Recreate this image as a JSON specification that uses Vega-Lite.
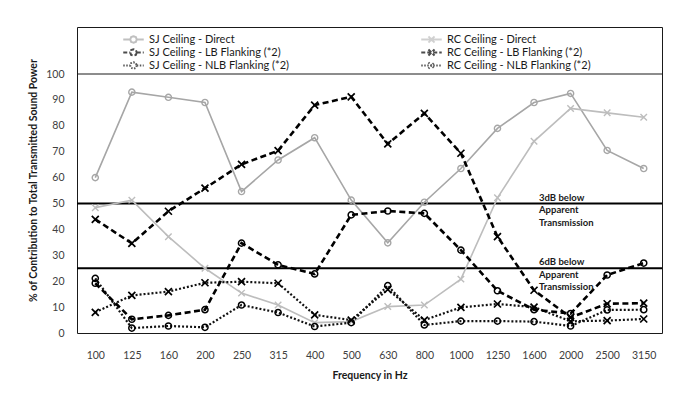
{
  "$schema": "https://vega.github.io/schema/vega-lite/v6.json",
  "width": 673,
  "height": 395,
  "autosize": {"type": "fit", "contains": "padding"},
  "padding": {"left": 28, "top": 27, "right": 10, "bottom": 14},
  "background": "white",
  "config": {
    "font": "Lato",
    "view": {"stroke": "#1a1a1a", "strokeWidth": 1},
    "axis": {"domain": false, "ticks": false, "grid": false, "labelColor": "#404040", "labelFontSize": 10.5, "titleFontSize": 10.5, "titleFontWeight": "bold", "titleColor": "#1a1a1a"},
    "axisX": {"labelPadding": 17, "titlePadding": 10, "labelAngle": 0},
    "axisY": {"labelPadding": 13, "titlePadding": 7}
  },
  "datasets": {
    "d": [
      {"series": "SJ Ceiling - Direct", "freq": "100", "value": 60},
      {"series": "SJ Ceiling - Direct", "freq": "125", "value": 93},
      {"series": "SJ Ceiling - Direct", "freq": "160", "value": 91},
      {"series": "SJ Ceiling - Direct", "freq": "200", "value": 89},
      {"series": "SJ Ceiling - Direct", "freq": "250", "value": 54.6},
      {"series": "SJ Ceiling - Direct", "freq": "315", "value": 66.8},
      {"series": "SJ Ceiling - Direct", "freq": "400", "value": 75.4},
      {"series": "SJ Ceiling - Direct", "freq": "500", "value": 51.3},
      {"series": "SJ Ceiling - Direct", "freq": "630", "value": 34.8},
      {"series": "SJ Ceiling - Direct", "freq": "800", "value": 50.5},
      {"series": "SJ Ceiling - Direct", "freq": "1000", "value": 63.5},
      {"series": "SJ Ceiling - Direct", "freq": "1250", "value": 79},
      {"series": "SJ Ceiling - Direct", "freq": "1600", "value": 89},
      {"series": "SJ Ceiling - Direct", "freq": "2000", "value": 92.5},
      {"series": "SJ Ceiling - Direct", "freq": "2500", "value": 70.5},
      {"series": "SJ Ceiling - Direct", "freq": "3150", "value": 63.5},
      {"series": "RC Ceiling - Direct", "freq": "100", "value": 48.4},
      {"series": "RC Ceiling - Direct", "freq": "125", "value": 51.3},
      {"series": "RC Ceiling - Direct", "freq": "160", "value": 37.2},
      {"series": "RC Ceiling - Direct", "freq": "200", "value": 25},
      {"series": "RC Ceiling - Direct", "freq": "250", "value": 15.4},
      {"series": "RC Ceiling - Direct", "freq": "315", "value": 10.8},
      {"series": "RC Ceiling - Direct", "freq": "400", "value": 4},
      {"series": "RC Ceiling - Direct", "freq": "500", "value": 4.4},
      {"series": "RC Ceiling - Direct", "freq": "630", "value": 10.2},
      {"series": "RC Ceiling - Direct", "freq": "800", "value": 10.8},
      {"series": "RC Ceiling - Direct", "freq": "1000", "value": 20.8},
      {"series": "RC Ceiling - Direct", "freq": "1250", "value": 52.2},
      {"series": "RC Ceiling - Direct", "freq": "1600", "value": 74},
      {"series": "RC Ceiling - Direct", "freq": "2000", "value": 86.7},
      {"series": "RC Ceiling - Direct", "freq": "2500", "value": 85},
      {"series": "RC Ceiling - Direct", "freq": "3150", "value": 83.3},
      {"series": "SJ Ceiling - LB Flanking (*2)", "freq": "100", "value": 19.2},
      {"series": "SJ Ceiling - LB Flanking (*2)", "freq": "125", "value": 5.3},
      {"series": "SJ Ceiling - LB Flanking (*2)", "freq": "160", "value": 6.8},
      {"series": "SJ Ceiling - LB Flanking (*2)", "freq": "200", "value": 9},
      {"series": "SJ Ceiling - LB Flanking (*2)", "freq": "250", "value": 34.7},
      {"series": "SJ Ceiling - LB Flanking (*2)", "freq": "315", "value": 26.3},
      {"series": "SJ Ceiling - LB Flanking (*2)", "freq": "400", "value": 22.8},
      {"series": "SJ Ceiling - LB Flanking (*2)", "freq": "500", "value": 45.6},
      {"series": "SJ Ceiling - LB Flanking (*2)", "freq": "630", "value": 47.1},
      {"series": "SJ Ceiling - LB Flanking (*2)", "freq": "800", "value": 46.2},
      {"series": "SJ Ceiling - LB Flanking (*2)", "freq": "1000", "value": 32},
      {"series": "SJ Ceiling - LB Flanking (*2)", "freq": "1250", "value": 16.3},
      {"series": "SJ Ceiling - LB Flanking (*2)", "freq": "1600", "value": 9},
      {"series": "SJ Ceiling - LB Flanking (*2)", "freq": "2000", "value": 7.5},
      {"series": "SJ Ceiling - LB Flanking (*2)", "freq": "2500", "value": 22.4},
      {"series": "SJ Ceiling - LB Flanking (*2)", "freq": "3150", "value": 27},
      {"series": "RC Ceiling - LB Flanking (*2)", "freq": "100", "value": 43.9},
      {"series": "RC Ceiling - LB Flanking (*2)", "freq": "125", "value": 34.6},
      {"series": "RC Ceiling - LB Flanking (*2)", "freq": "160", "value": 47},
      {"series": "RC Ceiling - LB Flanking (*2)", "freq": "200", "value": 55.9},
      {"series": "RC Ceiling - LB Flanking (*2)", "freq": "250", "value": 65.1},
      {"series": "RC Ceiling - LB Flanking (*2)", "freq": "315", "value": 70.4},
      {"series": "RC Ceiling - LB Flanking (*2)", "freq": "400", "value": 88},
      {"series": "RC Ceiling - LB Flanking (*2)", "freq": "500", "value": 91.2},
      {"series": "RC Ceiling - LB Flanking (*2)", "freq": "630", "value": 73},
      {"series": "RC Ceiling - LB Flanking (*2)", "freq": "800", "value": 84.8},
      {"series": "RC Ceiling - LB Flanking (*2)", "freq": "1000", "value": 69.4},
      {"series": "RC Ceiling - LB Flanking (*2)", "freq": "1250", "value": 37.2},
      {"series": "RC Ceiling - LB Flanking (*2)", "freq": "1600", "value": 16.5},
      {"series": "RC Ceiling - LB Flanking (*2)", "freq": "2000", "value": 6},
      {"series": "RC Ceiling - LB Flanking (*2)", "freq": "2500", "value": 11.3},
      {"series": "RC Ceiling - LB Flanking (*2)", "freq": "3150", "value": 11.5},
      {"series": "SJ Ceiling - NLB Flanking (*2)", "freq": "100", "value": 21.1},
      {"series": "SJ Ceiling - NLB Flanking (*2)", "freq": "125", "value": 1.9},
      {"series": "SJ Ceiling - NLB Flanking (*2)", "freq": "160", "value": 2.7},
      {"series": "SJ Ceiling - NLB Flanking (*2)", "freq": "200", "value": 2.2},
      {"series": "SJ Ceiling - NLB Flanking (*2)", "freq": "250", "value": 10.8},
      {"series": "SJ Ceiling - NLB Flanking (*2)", "freq": "315", "value": 7.9},
      {"series": "SJ Ceiling - NLB Flanking (*2)", "freq": "400", "value": 2.5},
      {"series": "SJ Ceiling - NLB Flanking (*2)", "freq": "500", "value": 4},
      {"series": "SJ Ceiling - NLB Flanking (*2)", "freq": "630", "value": 18.3},
      {"series": "SJ Ceiling - NLB Flanking (*2)", "freq": "800", "value": 3.1},
      {"series": "SJ Ceiling - NLB Flanking (*2)", "freq": "1000", "value": 4.6},
      {"series": "SJ Ceiling - NLB Flanking (*2)", "freq": "1250", "value": 4.6},
      {"series": "SJ Ceiling - NLB Flanking (*2)", "freq": "1600", "value": 4.4},
      {"series": "SJ Ceiling - NLB Flanking (*2)", "freq": "2000", "value": 2.7},
      {"series": "SJ Ceiling - NLB Flanking (*2)", "freq": "2500", "value": 8.9},
      {"series": "SJ Ceiling - NLB Flanking (*2)", "freq": "3150", "value": 9},
      {"series": "RC Ceiling - NLB Flanking (*2)", "freq": "100", "value": 8},
      {"series": "RC Ceiling - NLB Flanking (*2)", "freq": "125", "value": 14.5},
      {"series": "RC Ceiling - NLB Flanking (*2)", "freq": "160", "value": 16},
      {"series": "RC Ceiling - NLB Flanking (*2)", "freq": "200", "value": 19.4},
      {"series": "RC Ceiling - NLB Flanking (*2)", "freq": "250", "value": 19.8},
      {"series": "RC Ceiling - NLB Flanking (*2)", "freq": "315", "value": 19.2},
      {"series": "RC Ceiling - NLB Flanking (*2)", "freq": "400", "value": 7},
      {"series": "RC Ceiling - NLB Flanking (*2)", "freq": "500", "value": 5},
      {"series": "RC Ceiling - NLB Flanking (*2)", "freq": "630", "value": 16.8},
      {"series": "RC Ceiling - NLB Flanking (*2)", "freq": "800", "value": 5},
      {"series": "RC Ceiling - NLB Flanking (*2)", "freq": "1000", "value": 9.9},
      {"series": "RC Ceiling - NLB Flanking (*2)", "freq": "1250", "value": 11.2},
      {"series": "RC Ceiling - NLB Flanking (*2)", "freq": "1600", "value": 10},
      {"series": "RC Ceiling - NLB Flanking (*2)", "freq": "2000", "value": 4.5},
      {"series": "RC Ceiling - NLB Flanking (*2)", "freq": "2500", "value": 4.8},
      {"series": "RC Ceiling - NLB Flanking (*2)", "freq": "3150", "value": 5.4}
    ],
    "refs": [{"value": 50}, {"value": 25}],
    "top": [{"value": 100}],
    "notes": [
      {"freq": "1600", "value": 50, "label": "3dB below\nApparent\nTransmission"},
      {"freq": "1600", "value": 25, "label": "6dB below\nApparent\nTransmission"}
    ]
  },
  "data": {"name": "d"},
  "encoding": {
    "y": {
      "field": "value",
      "type": "quantitative",
      "scale": {"domain": [0, 118.15], "nice": false, "zero": true},
      "axis": {"values": [0, 10, 20, 30, 40, 50, 60, 70, 80, 90, 100], "title": "% of Contribution to Total Transmitted Sound Power"}
    }
  },
  "layer": [
    {
      "data": {"name": "top"},
      "mark": {"type": "rule", "color": "#1a1a1a", "strokeWidth": 1},
      "encoding": {}
    },
    {
      "data": {"name": "refs"},
      "mark": {"type": "rule", "color": "#000000", "strokeWidth": 2},
      "encoding": {}
    },
    {
      "transform": [{"filter": {"field": "series", "equal": "SJ Ceiling - Direct"}}],
      "mark": {"type": "line", "strokeWidth": 1.6, "color": "#a6a6a6"},
      "encoding": {
        "x": {"field": "freq", "type": "ordinal", "sort": ["100","125","160","200","250","315","400","500","630","800","1000","1250","1600","2000","2500","3150"], "scale": {"type": "point", "padding": 0.5}, "title": "Frequency in Hz"}
      }
    },
    {
      "transform": [{"filter": {"field": "series", "equal": "RC Ceiling - Direct"}}],
      "mark": {"type": "line", "strokeWidth": 1.6, "color": "#bdbdbd"},
      "encoding": {
        "x": {"field": "freq", "type": "ordinal", "sort": ["100","125","160","200","250","315","400","500","630","800","1000","1250","1600","2000","2500","3150"], "scale": {"type": "point", "padding": 0.5}, "title": "Frequency in Hz"}
      }
    },
    {
      "transform": [{"filter": {"field": "series", "oneOf": ["SJ Ceiling - NLB Flanking (*2)", "RC Ceiling - NLB Flanking (*2)"]}}],
      "mark": {"type": "line", "strokeWidth": 2.2, "strokeDash": [2, 2], "color": "#111111"},
      "encoding": {
        "x": {"field": "freq", "type": "ordinal", "sort": ["100","125","160","200","250","315","400","500","630","800","1000","1250","1600","2000","2500","3150"], "scale": {"type": "point", "padding": 0.5}, "title": "Frequency in Hz"},
        "detail": {"field": "series", "type": "nominal"}
      }
    },
    {
      "transform": [{"filter": {"field": "series", "oneOf": ["SJ Ceiling - LB Flanking (*2)", "RC Ceiling - LB Flanking (*2)"]}}],
      "mark": {"type": "line", "strokeWidth": 2.6, "strokeDash": [6, 3.5], "color": "#000000"},
      "encoding": {
        "x": {"field": "freq", "type": "ordinal", "sort": ["100","125","160","200","250","315","400","500","630","800","1000","1250","1600","2000","2500","3150"], "scale": {"type": "point", "padding": 0.5}, "title": "Frequency in Hz"},
        "detail": {"field": "series", "type": "nominal"}
      }
    },
    {
      "transform": [{"filter": {"field": "series", "equal": "SJ Ceiling - Direct"}}],
      "mark": {"type": "point", "shape": "circle", "filled": false, "size": 38, "strokeWidth": 1.4, "color": "#a6a6a6", "opacity": 1},
      "encoding": {
        "x": {"field": "freq", "type": "ordinal", "sort": ["100","125","160","200","250","315","400","500","630","800","1000","1250","1600","2000","2500","3150"], "scale": {"type": "point", "padding": 0.5}, "title": "Frequency in Hz"}
      }
    },
    {
      "transform": [{"filter": {"field": "series", "equal": "RC Ceiling - Direct"}}],
      "mark": {"type": "point", "shape": "M-1,-1L1,1M-1,1L1,-1", "filled": false, "size": 42, "strokeWidth": 1.4, "color": "#bdbdbd", "opacity": 1},
      "encoding": {
        "x": {"field": "freq", "type": "ordinal", "sort": ["100","125","160","200","250","315","400","500","630","800","1000","1250","1600","2000","2500","3150"], "scale": {"type": "point", "padding": 0.5}, "title": "Frequency in Hz"}
      }
    },
    {
      "transform": [{"filter": {"field": "series", "oneOf": ["SJ Ceiling - LB Flanking (*2)", "SJ Ceiling - NLB Flanking (*2)"]}}],
      "mark": {"type": "point", "shape": "circle", "filled": false, "size": 38, "strokeWidth": 1.5, "color": "#000000", "opacity": 1},
      "encoding": {
        "x": {"field": "freq", "type": "ordinal", "sort": ["100","125","160","200","250","315","400","500","630","800","1000","1250","1600","2000","2500","3150"], "scale": {"type": "point", "padding": 0.5}, "title": "Frequency in Hz"}
      }
    },
    {
      "transform": [{"filter": {"field": "series", "oneOf": ["RC Ceiling - LB Flanking (*2)", "RC Ceiling - NLB Flanking (*2)"]}}],
      "mark": {"type": "point", "shape": "M-1,-1L1,1M-1,1L1,-1", "filled": false, "size": 49, "strokeWidth": 1.7, "color": "#000000", "opacity": 1},
      "encoding": {
        "x": {"field": "freq", "type": "ordinal", "sort": ["100","125","160","200","250","315","400","500","630","800","1000","1250","1600","2000","2500","3150"], "scale": {"type": "point", "padding": 0.5}, "title": "Frequency in Hz"}
      }
    },
    {
      "data": {"name": "notes"},
      "mark": {"type": "text", "align": "left", "baseline": "alphabetic", "dx": 5, "dy": -3, "fontSize": 9.5, "fontWeight": "bold", "lineBreak": "\n", "lineHeight": 12.5, "color": "#1a1a1a"},
      "encoding": {
        "x": {"field": "freq", "type": "ordinal", "sort": ["100","125","160","200","250","315","400","500","630","800","1000","1250","1600","2000","2500","3150"], "scale": {"type": "point", "padding": 0.5}, "title": "Frequency in Hz"},
        "text": {"field": "label", "type": "nominal"}
      }
    },
    {
      "transform": [{"filter": "datum.value > 1000"}],
      "mark": {"type": "point", "filled": false},
      "encoding": {
        "color": {"field": "series", "type": "nominal", "scale": {"domain": ["SJ Ceiling - Direct","SJ Ceiling - LB Flanking (*2)","SJ Ceiling - NLB Flanking (*2)","RC Ceiling - Direct","RC Ceiling - LB Flanking (*2)","RC Ceiling - NLB Flanking (*2)"], "range": ["#a6a6a6","#000000","#111111","#bdbdbd","#000000","#111111"]}, "legend": {"title": null, "orient": "none", "legendX": 45, "legendY": 6, "columns": 2, "columnPadding": 127, "rowPadding": 0, "clipHeight": 13, "symbolSize": 420, "symbolStrokeWidth": 2, "labelFontSize": 11, "labelColor": "#1a1a1a", "labelOffset": 4, "gridAlign": "all"}},
        "shape": {"field": "series", "type": "nominal", "scale": {"domain": ["SJ Ceiling - Direct","SJ Ceiling - LB Flanking (*2)","SJ Ceiling - NLB Flanking (*2)","RC Ceiling - Direct","RC Ceiling - LB Flanking (*2)","RC Ceiling - NLB Flanking (*2)"], "range": ["M-1,0L-0.32,0M0.32,0L0.23,0.23L0,0.32L-0.23,0.23L-0.32,0L-0.23,-0.23L0,-0.32L0.23,-0.23ZM0.32,0L1,0", "M-1,0L-0.32,0M0.32,0L0.23,0.23L0,0.32L-0.23,0.23L-0.32,0L-0.23,-0.23L0,-0.32L0.23,-0.23ZM0.32,0L1,0", "M-1,0L-0.32,0M0.32,0L0.23,0.23L0,0.32L-0.23,0.23L-0.32,0L-0.23,-0.23L0,-0.32L0.23,-0.23ZM0.32,0L1,0", "M-1,0L1,0M-0.3,-0.3L0.3,0.3M-0.3,0.3L0.3,-0.3", "M-1,0L1,0M-0.3,-0.3L0.3,0.3M-0.3,0.3L0.3,-0.3", "M-1,0L1,0M-0.3,-0.3L0.3,0.3M-0.3,0.3L0.3,-0.3"]}, "legend": {"title": null, "orient": "none", "legendX": 45, "legendY": 6, "columns": 2, "columnPadding": 127, "rowPadding": 0, "clipHeight": 13, "symbolSize": 420, "symbolStrokeWidth": 2, "labelFontSize": 11, "labelColor": "#1a1a1a", "labelOffset": 4, "gridAlign": "all"}},
        "strokeDash": {"field": "series", "type": "nominal", "scale": {"domain": ["SJ Ceiling - Direct","SJ Ceiling - LB Flanking (*2)","SJ Ceiling - NLB Flanking (*2)","RC Ceiling - Direct","RC Ceiling - LB Flanking (*2)","RC Ceiling - NLB Flanking (*2)"], "range": [[1, 0], [4, 2], [1.5, 1.5], [1, 0], [4, 2], [1.5, 1.5]]}, "legend": {"title": null, "orient": "none", "legendX": 45, "legendY": 6, "columns": 2, "columnPadding": 127, "rowPadding": 0, "clipHeight": 13, "symbolSize": 420, "symbolStrokeWidth": 2, "labelFontSize": 11, "labelColor": "#1a1a1a", "labelOffset": 4, "gridAlign": "all"}}
      }
    }
  ]
}
